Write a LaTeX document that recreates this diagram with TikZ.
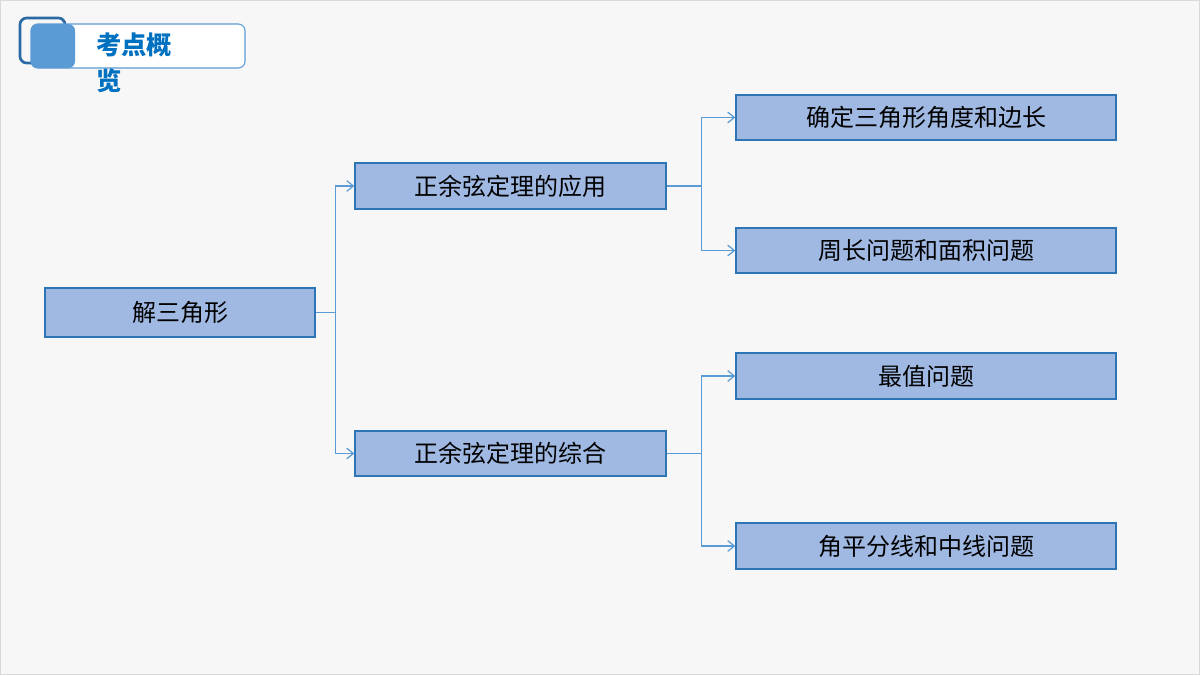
\documentclass[tikz,border=0pt]{standalone}
\usepackage{fontspec}
\newfontfamily\cjk{Noto Sans CJK SC}
\usetikzlibrary{arrows.meta}
\definecolor{boxfill}{HTML}{A0B9E3}
\definecolor{boxline}{HTML}{2E75B6}
\definecolor{conn}{HTML}{5B9BD5}
\definecolor{ttl}{HTML}{0070C0}
\begin{document}
\begin{tikzpicture}[x=0.75pt,y=-0.75pt,
  box/.style={draw=boxline,line width=1pt,fill=boxfill,inner sep=0pt,font=\cjk\fontsize{18}{18}\selectfont},
  cn/.style={draw=conn,line width=0.9pt,-{Straight Barb[length=5pt,width=8pt]}}]
\fill[fill=black!3] (0,0) rectangle (1200,675);
\draw[black!15] (0.5,0.5) rectangle (1199.5,674.5);
% header
\draw[draw=boxline!90!black,line width=2pt,rounded corners=5pt] (20,18) rectangle (65,63);
\draw[draw=conn,fill=white,line width=0.8pt,rounded corners=5pt] (31,24) rectangle (245,68);
\fill[conn,rounded corners=5pt] (31,24) rectangle (75,68);
\node[anchor=west,text=ttl,font=\cjk\bfseries\fontsize{19}{19}\selectfont,inner sep=0pt] (t1) at (96,45) {考点概};
\node[anchor=west,text=ttl,font=\cjk\bfseries\fontsize{19}{19}\selectfont,inner sep=0pt] (t2) at (96,81) {览};
% nodes (sizes in pt = px*0.75)
\node[box,minimum width=202.5pt,minimum height=36.75pt] (r) at (180,312.5) {解三角形};
\node[box,minimum width=233.25pt,minimum height=34.5pt] (a) at (510.5,186) {正余弦定理的应用};
\node[box,minimum width=233.25pt,minimum height=33.75pt] (b) at (510.5,453.5) {正余弦定理的综合};
\node[box,minimum width=285pt,minimum height=33.75pt] (a1) at (926,117.5) {确定三角形角度和边长};
\node[box,minimum width=285pt,minimum height=33.75pt] (a2) at (926,250.5) {周长问题和面积问题};
\node[box,minimum width=285pt,minimum height=34.5pt] (b1) at (926,376) {最值问题};
\node[box,minimum width=285pt,minimum height=34.5pt] (b2) at (926,546) {角平分线和中线问题};
% connectors
\draw[cn] (r.east) -- ++(20,0) |- (a.west);
\draw[cn] (r.east) -- ++(20,0) |- (b.west);
\draw[cn] (a.east) -- ++(35,0) |- (a1.west);
\draw[cn] (a.east) -- ++(35,0) |- (a2.west);
\draw[cn] (b.east) -- ++(35,0) |- (b1.west);
\draw[cn] (b.east) -- ++(35,0) |- (b2.west);
\end{tikzpicture}
\end{document}
